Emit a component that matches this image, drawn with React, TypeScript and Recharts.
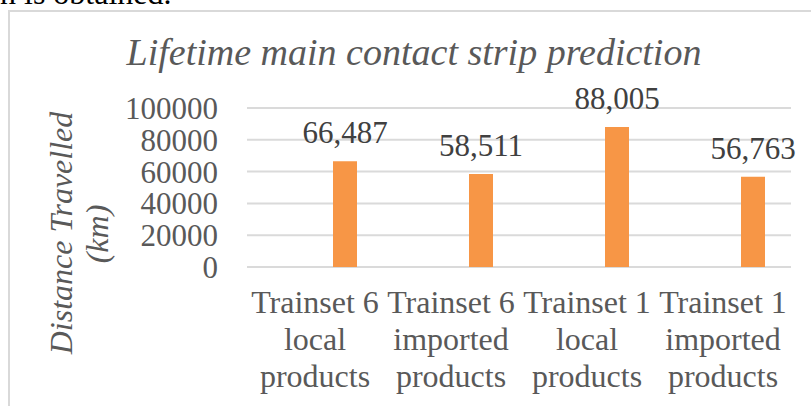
import React from "react";
import { BarChart, Bar, XAxis, YAxis, CartesianGrid, LabelList } from "recharts";

const categories = [
  "Trainset 6 local products",
  "Trainset 6 imported products",
  "Trainset 1 local products",
  "Trainset 1 imported products",
];

const categoryLines = [
  ["Trainset 6", "local", "products"],
  ["Trainset 6", "imported", "products"],
  ["Trainset 1", "local", "products"],
  ["Trainset 1", "imported", "products"],
];

const distances = [66487, 58511, 88005, 56763];

const yTicks = [0, 20000, 40000, 60000, 80000, 100000];

const data = categories.map((name, i) => ({
  name,
  lines: categoryLines[i],
  distance: distances[i],
}));

const serif = '"Liberation Serif", "Times New Roman", serif';
const axisGrey = "#595959";

const CategoryTick = (props: any) => {
  const { x, y, index } = props;
  const lines = categoryLines[index] || [];
  return (
    <text x={x} y={y} textAnchor="middle" fill={axisGrey} fontFamily={serif} fontSize={32}>
      {lines.map((line, i) => (
        <tspan key={i} x={x} dy={i === 0 ? 16 : 37}>
          {line}
        </tspan>
      ))}
    </text>
  );
};

const App = () => {
  return (
    <div
      style={{
        position: "absolute",
        left: 0,
        top: 0,
        width: 811,
        height: 406,
        overflow: "hidden",
        background: "#fff",
      }}
    >
      {/* chart frame, runs off the right and bottom edges */}
      <div
        style={{
          position: "absolute",
          left: 8,
          top: 10,
          width: 811,
          height: 406,
          border: "2px solid #D9D9D9",
        }}
      />
      <div style={{ position: "absolute", left: 0, top: 0 }}>
        <BarChart
          width={811}
          height={406}
          data={data}
          margin={{ top: 108, right: 20, bottom: 0, left: 0 }}
        >
          <CartesianGrid xAxisId="labels" vertical={false} stroke="#DADADA" strokeWidth={2} />
          <XAxis
            xAxisId="labels"
            dataKey="name"
            height={139}
            axisLine={false}
            tickLine={false}
            tickSize={0}
            tickMargin={0}
            interval={0}
            tick={<CategoryTick />}
          />
          {/* bars sit offset to the right of their category labels */}
          <XAxis xAxisId="bars" dataKey="name" hide padding={{ left: 30, right: -30 }} />
          <YAxis
            width={247}
            domain={[0, 100000]}
            ticks={yTicks}
            interval={0}
            axisLine={false}
            tickLine={false}
            tickSize={0}
            tickMargin={29}
            tick={{ fill: axisGrey, fontFamily: serif, fontSize: 31 }}
          />
          <Bar xAxisId="bars" dataKey="distance" fill="#F79646" barSize={24} isAnimationActive={false}>
            <LabelList
              dataKey="distance"
              position="top"
              offset={18}
              fill="#404040"
              fontFamily={serif}
              fontSize={31}
              formatter={(v: any) => Number(v).toLocaleString("en-US")}
            />
          </Bar>
        </BarChart>
      </div>
      <svg
        width={811}
        height={406}
        style={{ position: "absolute", left: 0, top: 0, pointerEvents: "none" }}
      >
        <text x={0} y={4} fill="#000" fontFamily={serif} fontSize={32}>
          n is obtained.
        </text>
        <text
          x={414}
          y={65}
          textAnchor="middle"
          fill={axisGrey}
          fontFamily={serif}
          fontStyle="italic"
          fontSize={38}
        >
          Lifetime main contact strip prediction
        </text>
        <g fill={axisGrey} fontFamily={serif} fontStyle="italic" fontSize={32} textAnchor="middle">
          <text transform="translate(71.5 233) rotate(-90)">Distance Travelled</text>
          <text transform="translate(107.5 234) rotate(-90)">(km)</text>
        </g>
      </svg>
    </div>
  );
};

export default App;
